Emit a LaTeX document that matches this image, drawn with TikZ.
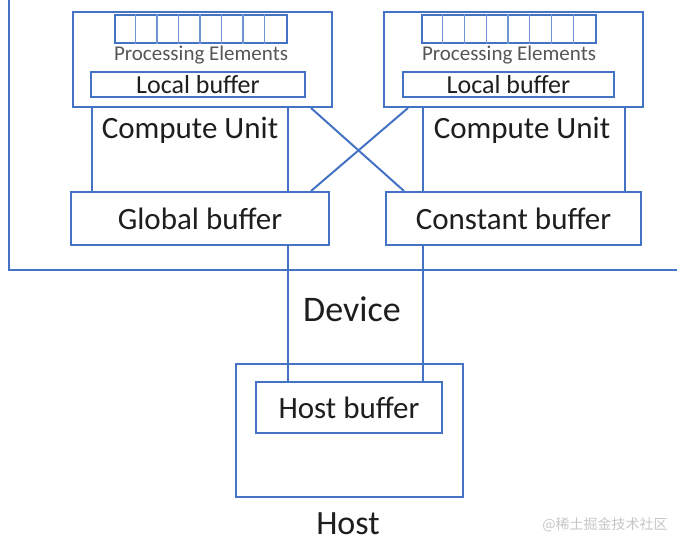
\documentclass[tikz,border=0pt]{standalone}
\usepackage{fontspec}
\setmainfont{Carlito}
\newfontfamily\cjk{Noto Sans CJK SC}
\definecolor{lineblue}{RGB}{68,114,196}
\definecolor{inkgray}{RGB}{30,30,30}
\tikzset{
  box/.style={draw=lineblue, line width=2pt, fill=white, inner sep=0pt, text=inkgray},
  link/.style={draw=lineblue, line width=2pt},
  pecell/.style={draw=lineblue!75, line width=1.1pt},
  label/.style={text=inkgray, inner sep=0pt},
}
\newcommand{\fs}[1]{\fontsize{#1}{#1}\selectfont}

\begin{document}
\begin{tikzpicture}[x=1pt, y=-1pt]
  \useasboundingbox (0,0) rectangle (677,543);

  % Device frame (open at top and right)
  \coordinate (devTL) at (9,0);
  \coordinate (devBL) at (9,270);
  \coordinate (devBR) at (677,270);
  \draw[link] (devTL) -- (devBL) -- (devBR);
  \node[label, font=\fs{36}] (device) at (352,309) {Device};

  % Compute unit (left)
  \node[box, minimum width=259pt, minimum height=95pt] (cuL) at (202.5,59.5) {};
  \node[box, minimum width=172pt, minimum height=28pt] (peL) at (201,29) {};
  \foreach \i in {1,...,7}
    \draw[pecell] ([xshift=\i*21.5pt]peL.north west) -- ([xshift=\i*21.5pt]peL.south west);
  \node[label, text=inkgray!75, font=\fs{21}] (pelabL) at (201,55) {Processing Elements};
  \node[box, font=\fs{26}, minimum width=214pt, minimum height=25pt] (lbL) at (198,84.5) {Local buffer};
  \node[label, font=\fs{31}] (cutextL) at (190,130) {Compute Unit};

  % Compute unit (right)
  \node[box, minimum width=259pt, minimum height=95pt] (cuR) at (513.5,59.5) {};
  \node[box, minimum width=174pt, minimum height=28pt] (peR) at (509,29) {};
  \foreach \i in {1,...,7}
    \draw[pecell] ([xshift=\i*21.75pt]peR.north west) -- ([xshift=\i*21.75pt]peR.south west);
  \node[label, text=inkgray!75, font=\fs{21}] (pelabR) at (509,55) {Processing Elements};
  \node[box, font=\fs{26}, minimum width=211pt, minimum height=25pt] (lbR) at (508.5,84.5) {Local buffer};
  \node[label, font=\fs{31}] (cutextR) at (522,130) {Compute Unit};

  % Device buffers
  \node[box, font=\fs{31}, minimum width=258pt, minimum height=53pt] (globbuf) at (200,218.5) {Global buffer};
  \node[box, font=\fs{31}, minimum width=255pt, minimum height=53pt] (constbuf) at (513.5,218.5) {Constant buffer};

  % Host
  \node[box, minimum width=227pt, minimum height=133pt] (host) at (349.5,430.5) {};
  \node[box, font=\fs{31}, minimum width=186pt, minimum height=51pt] (hostbuf) at (349,407.5) {Host buffer};
  \node[label, font=\fs{34}] (hostlab) at (348,524) {Host};

  % Compute unit sides
  \draw[link] ([xshift=20pt]cuL.south west) -- ([xshift=20pt]cuL.south west |- globbuf.north);
  \draw[link] ([xshift=-45pt]cuL.south east) -- ([xshift=-45pt]cuL.south east |- globbuf.north);
  \draw[link] ([xshift=40pt]cuR.south west) -- ([xshift=40pt]cuR.south west |- constbuf.north);
  \draw[link] ([xshift=-19pt]cuR.south east) -- ([xshift=-19pt]cuR.south east |- constbuf.north);

  % Crossing links
  \draw[link] ([xshift=-22pt]cuL.south east) -- ([xshift=19pt]constbuf.north west);
  \draw[link] ([xshift=25pt]cuR.south west) -- ([xshift=-19pt]globbuf.north east);

  % Links to host buffer
  \draw[link] ([xshift=-42pt]globbuf.south east) -- ([xshift=-42pt]globbuf.south east |- hostbuf.north);
  \draw[link] ([xshift=38pt]constbuf.south west) -- ([xshift=38pt]constbuf.south west |- hostbuf.north);

  % Watermark
  \node[label, text=gray!45, font=\cjk\fs{14}] (mark) at (605,525) {@稀土掘金技术社区};
\end{tikzpicture}
\end{document}
